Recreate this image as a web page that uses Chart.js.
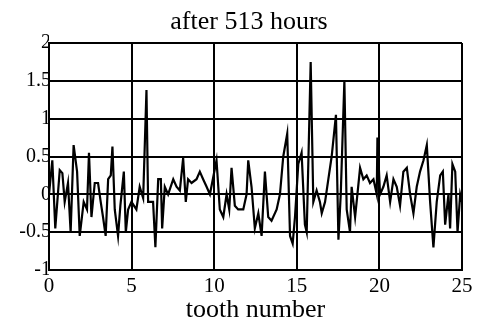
<!DOCTYPE html>
<html>
<head>
<meta charset="utf-8">
<script src="https://cdn.jsdelivr.net/npm/chart.js@4"></script>
<style>
  body { margin: 0; background: #fff; }
  #wrap { width: 477px; height: 326px; }
</style>
</head>
<body>
<div id="wrap"><canvas id="toothChart"></canvas></div>
<script>
// tooth position (in teeth) and measured deviation
const toothPos = [
  0, 0.20, 0.38, 0.65, 0.81, 0.95, 1.15, 1.31, 1.49, 1.70, 1.86, 2.10, 2.30, 2.42, 2.57, 2.77, 2.97,
  3.13, 3.27, 3.43, 3.58, 3.74, 3.84, 3.98, 4.18, 4.32, 4.53, 4.65, 4.79, 4.99, 5.29, 5.49, 5.70,
  5.90, 6.00, 6.30, 6.44, 6.61, 6.77, 6.85, 7.01, 7.21, 7.52, 7.72, 7.92, 8.12, 8.28, 8.42, 8.63,
  8.93, 9.13, 9.33, 9.54, 9.74, 10.14, 10.34, 10.55, 10.75, 10.91, 11.05, 11.25, 11.45, 11.76, 11.96,
  12.06, 12.26, 12.46, 12.67, 12.87, 13.07, 13.27, 13.47, 13.78, 13.98, 14.18, 14.42, 14.59, 14.75,
  14.89, 15.09, 15.29, 15.49, 15.60, 15.84, 16.00, 16.20, 16.40, 16.51, 16.71, 16.91, 17.11, 17.37,
  17.52, 17.66, 17.88, 18.02, 18.22, 18.32, 18.53, 18.83, 19.03, 19.23, 19.43, 19.64, 19.84, 19.88,
  20.04, 20.24, 20.44, 20.65, 20.85, 21.05, 21.25, 21.45, 21.66, 21.86, 22.06, 22.26, 22.46, 22.67,
  22.87, 23.07, 23.27, 23.47, 23.68, 23.84, 23.98, 24.18, 24.28, 24.42, 24.59, 24.73, 24.89, 25.0
];
const deviation = [
  0, 0.45, -0.45, 0.32, 0.28, -0.1, 0.15, -0.5, 0.65, 0.3, -0.55, -0.1, -0.2, 0.55, -0.3, 0.15, 0.15,
  -0.1, -0.3, -0.55, 0.2, 0.25, 0.63, -0.2, -0.55, -0.15, 0.3, -0.5, -0.2, -0.1, -0.2, 0.1, -0.05,
  1.38, -0.1, -0.1, -0.7, 0.2, 0.2, -0.45, 0.1, 0.0, 0.2, 0.1, 0.05, 0.48, -0.1, 0.2, 0.15,
  0.2, 0.3, 0.2, 0.1, 0.0, 0.45, -0.2, -0.3, 0.0, -0.2, 0.35, -0.15, -0.2, -0.2, 0.0,
  0.45, 0.1, -0.45, -0.25, -0.55, 0.3, -0.3, -0.35, -0.2, 0.0, 0.5, 0.8, -0.55, -0.65,
  -0.3, 0.4, 0.55, -0.4, -0.5, 1.75, -0.1, 0.05, -0.1, -0.25, -0.1, 0.2, 0.5, 1.05,
  -0.6, 0.0, 1.5, -0.2, -0.5, 0.1, -0.3, 0.35, 0.2, 0.25, 0.15, 0.2, 0.0, 0.75,
  0.0, 0.1, 0.25, -0.1, 0.2, 0.1, -0.15, 0.3, 0.35, 0.0, -0.25, 0.1, 0.3, 0.45,
  0.65, -0.1, -0.7, -0.1, 0.25, 0.3, -0.4, 0.0, -0.45, 0.4, 0.3, -0.5, 0.0, -0.1
];
const xTicks = [0, 5, 10, 15, 20, 25];
const yTicks = [-1, -0.5, 0, 0.5, 1, 1.5, 2];
const chartTitle = "after 513 hours";

const serif = "'Liberation Serif', 'DejaVu Serif', serif";

const points = toothPos.map((t, i) => ({ x: t, y: deviation[i] }));

// title sits a little left of the plot centre, so draw it by hand
const titlePlugin = {
  id: "plotTitle",
  afterDraw(chart) {
    const c = chart.ctx;
    c.save();
    c.fillStyle = "#000";
    c.font = "26px " + serif;
    c.textAlign = "center";
    c.textBaseline = "alphabetic";
    c.fillText(chartTitle, 249, 29);
    c.restore();
  },
};

const ctx = document.getElementById("toothChart").getContext("2d");
const toothChart = new Chart(ctx, {
  type: "line",
  data: {
    datasets: [{
      data: points,
      borderColor: "#000",
      borderWidth: 2.2,
      pointRadius: 0,
      tension: 0,
    }],
  },
  options: {
    responsive: true,
    maintainAspectRatio: false,
    animation: false,
    layout: { padding: { top: 43, right: 15, left: 0, bottom: 0 } },
    scales: {
      x: {
        type: "linear",
        min: 0,
        max: 25,
        afterBuildTicks: (scale) => { scale.ticks = xTicks.map(v => ({ value: v })); },
        afterFit: (scale) => { scale.height = 56; },
        grid: { color: "#000", lineWidth: 2, drawTicks: false },
        border: { color: "#000", width: 2 },
        ticks: { color: "#000", font: { family: serif, size: 21 }, padding: 4 },
        title: {
          display: true,
          text: "tooth number",
          color: "#000",
          font: { family: serif, size: 26 },
          padding: { top: -5, bottom: 0 },
        },
      },
      y: {
        min: -1,
        max: 2,
        afterBuildTicks: (scale) => { scale.ticks = yTicks.map(v => ({ value: v })); },
        afterFit: (scale) => { scale.width = 49; },
        grid: { color: "#000", lineWidth: 2, drawTicks: false },
        border: { color: "#000", width: 2 },
        ticks: {
          color: "#000",
          font: { family: serif, size: 20 },
          padding: -2,
          callback: (v) => String(v),
        },
      },
    },
    plugins: {
      legend: { display: false },
      tooltip: { enabled: false },
      title: { display: false },
    },
  },
  plugins: [titlePlugin],
});
</script>
</body>
</html>
